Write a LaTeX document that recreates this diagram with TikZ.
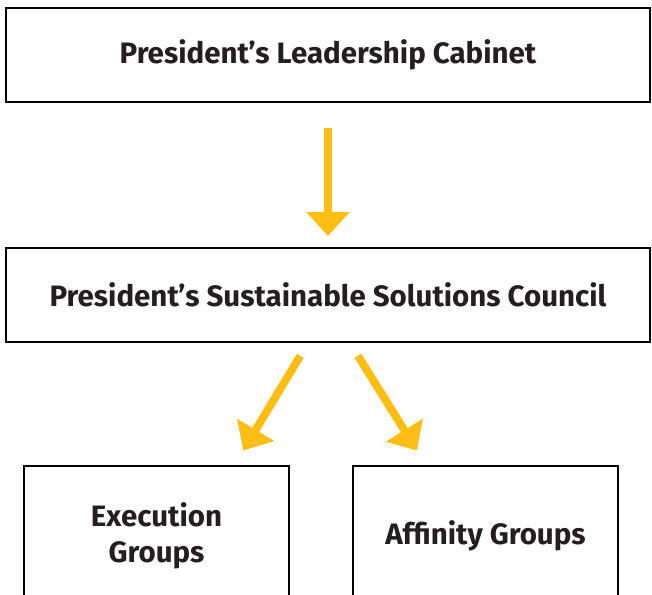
\documentclass[tikz,border=0pt]{standalone}
\usepackage{fontspec}
\setmainfont{Fira Sans}
\usetikzlibrary{positioning,calc,arrows.meta}
\definecolor{ink}{RGB}{35,31,32}
\definecolor{gold}{RGB}{252,190,18}

\begin{document}
\begin{tikzpicture}[
    x=1pt, y=-1pt,
    box/.style={draw=black, line width=2pt, inner sep=0pt, text=ink, align=center,
                font=\fontsize{29.5}{36}\selectfont\bfseries},
    arr/.style={draw=gold, line width=8pt, -{Triangle[width=42pt,length=24pt]}}
]
\useasboundingbox (0,0) rectangle (652,594);

% Boxes
\node[box, minimum width=644pt, minimum height=94pt] (cabinet) at (328,55) {President’s Leadership Cabinet};
\node[box, minimum width=644pt, minimum height=94pt] (council) at (328,295) {President’s Sustainable Solutions Council};
\node[box, minimum width=265pt, minimum height=140pt] (exec) at (156.5,536) {Execution\\Groups};
\node[box, minimum width=265pt, minimum height=140pt] (affin) at (485.5,536) {Affinity Groups};

% Arrows
\draw[arr, shorten <=25pt, shorten >=11pt] (cabinet.south) -- (council.north);
\draw[arr, shorten <=15pt, shorten >=17pt] ([xshift=-20pt]council.south) -- ([xshift=78pt]exec.north);
\draw[arr, shorten <=15pt, shorten >=17pt] ([xshift=22pt]council.south) -- ([xshift=-59.5pt]affin.north);

\end{tikzpicture}
\end{document}
